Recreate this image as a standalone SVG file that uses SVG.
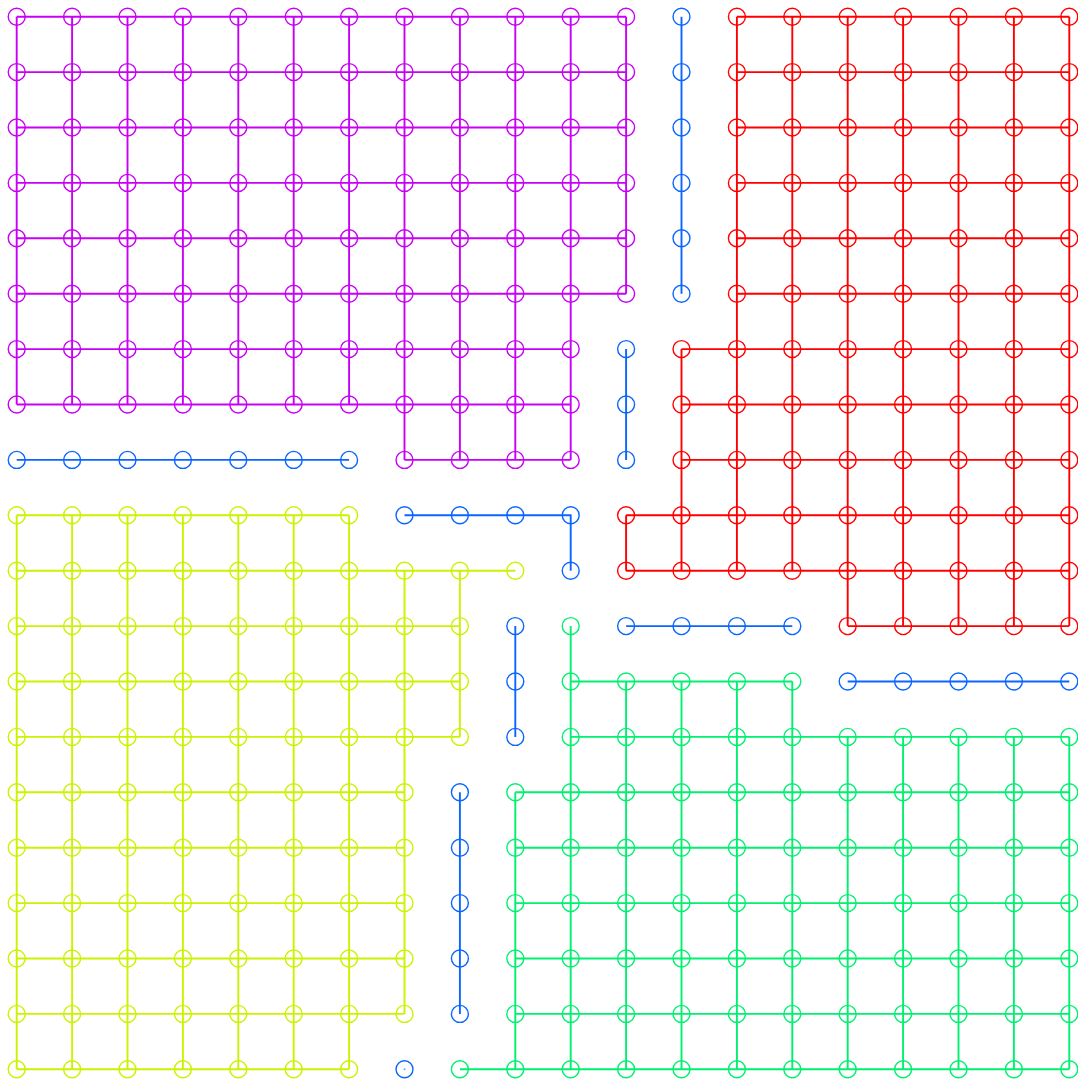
<svg xmlns="http://www.w3.org/2000/svg" width="1078" height="1082" viewBox="0 0 1078 1082">
<style>
circle{fill:none;stroke-width:1.4;vector-effect:non-scaling-stroke}
path{fill:none;stroke-width:1.9;vector-effect:non-scaling-stroke}
.p{stroke:#c800f5}.b{stroke:#0a66ff}.r{stroke:#ff0000}.y{stroke:#ccf200}.g{stroke:#00f070}
</style>
<rect width="1078" height="1082" fill="#ffffff"/>
<g transform="translate(16.7 16.7) scale(55.4)">
<g id="connectors">
<path class="p" d="M0 0H11M0 1H11M0 2H11M0 3H11M0 4H11M0 5H11M0 6H10M0 7H10M7 8H10M0 0V7M1 0V7M2 0V7M3 0V7M4 0V7M5 0V7M6 0V7M7 0V8M8 0V8M9 0V8M10 0V8M11 0V5"/>
<path class="b" d="M12 0V5M11 6V8M0 8H6M7 9H10V10M9 11V13M11 11H14M15 12H19M8 14V18"/>
<path class="r" d="M13 0H19M13 1H19M13 2H19M13 3H19M13 4H19M13 5H19M12 6H19M12 7H19M12 8H19M11 9H19M11 10H19M15 11H19M11 9V10M12 6V10M13 0V10M14 0V10M15 0V11M16 0V11M17 0V11M18 0V11M19 0V11"/>
<path class="y" d="M0 9H6M0 10H9M0 11H8M0 12H8M0 13H8M0 14H7M0 15H7M0 16H7M0 17H7M0 18H7M0 19H6M0 9V19M1 9V19M2 9V19M3 9V19M4 9V19M5 9V19M6 9V19M7 10V18M8 10V13"/>
<path class="g" d="M10 12H14M10 13H19M9 14H19M9 15H19M9 16H19M9 17H19M9 18H19M8 19H19M9 14V19M10 11V19M11 12V19M12 12V19M13 12V19M14 12V19M15 13V19M16 13V19M17 13V19M18 13V19M19 13V19"/>
</g>
<g id="nodes-purple" class="p">
<g id="n0_0"><circle cx="0" cy="0" r=".153"/></g><g id="n0_1"><circle cx="1" cy="0" r=".153"/></g><g id="n0_2"><circle cx="2" cy="0" r=".153"/></g><g id="n0_3"><circle cx="3" cy="0" r=".153"/></g><g id="n0_4"><circle cx="4" cy="0" r=".153"/></g><g id="n0_5"><circle cx="5" cy="0" r=".153"/></g><g id="n0_6"><circle cx="6" cy="0" r=".153"/></g><g id="n0_7"><circle cx="7" cy="0" r=".153"/></g><g id="n0_8"><circle cx="8" cy="0" r=".153"/></g><g id="n0_9"><circle cx="9" cy="0" r=".153"/></g><g id="n0_10"><circle cx="10" cy="0" r=".153"/></g><g id="n0_11"><circle cx="11" cy="0" r=".153"/></g>
<g id="n1_0"><circle cx="0" cy="1" r=".153"/></g><g id="n1_1"><circle cx="1" cy="1" r=".153"/></g><g id="n1_2"><circle cx="2" cy="1" r=".153"/></g><g id="n1_3"><circle cx="3" cy="1" r=".153"/></g><g id="n1_4"><circle cx="4" cy="1" r=".153"/></g><g id="n1_5"><circle cx="5" cy="1" r=".153"/></g><g id="n1_6"><circle cx="6" cy="1" r=".153"/></g><g id="n1_7"><circle cx="7" cy="1" r=".153"/></g><g id="n1_8"><circle cx="8" cy="1" r=".153"/></g><g id="n1_9"><circle cx="9" cy="1" r=".153"/></g><g id="n1_10"><circle cx="10" cy="1" r=".153"/></g><g id="n1_11"><circle cx="11" cy="1" r=".153"/></g>
<g id="n2_0"><circle cx="0" cy="2" r=".153"/></g><g id="n2_1"><circle cx="1" cy="2" r=".153"/></g><g id="n2_2"><circle cx="2" cy="2" r=".153"/></g><g id="n2_3"><circle cx="3" cy="2" r=".153"/></g><g id="n2_4"><circle cx="4" cy="2" r=".153"/></g><g id="n2_5"><circle cx="5" cy="2" r=".153"/></g><g id="n2_6"><circle cx="6" cy="2" r=".153"/></g><g id="n2_7"><circle cx="7" cy="2" r=".153"/></g><g id="n2_8"><circle cx="8" cy="2" r=".153"/></g><g id="n2_9"><circle cx="9" cy="2" r=".153"/></g><g id="n2_10"><circle cx="10" cy="2" r=".153"/></g><g id="n2_11"><circle cx="11" cy="2" r=".153"/></g>
<g id="n3_0"><circle cx="0" cy="3" r=".153"/></g><g id="n3_1"><circle cx="1" cy="3" r=".153"/></g><g id="n3_2"><circle cx="2" cy="3" r=".153"/></g><g id="n3_3"><circle cx="3" cy="3" r=".153"/></g><g id="n3_4"><circle cx="4" cy="3" r=".153"/></g><g id="n3_5"><circle cx="5" cy="3" r=".153"/></g><g id="n3_6"><circle cx="6" cy="3" r=".153"/></g><g id="n3_7"><circle cx="7" cy="3" r=".153"/></g><g id="n3_8"><circle cx="8" cy="3" r=".153"/></g><g id="n3_9"><circle cx="9" cy="3" r=".153"/></g><g id="n3_10"><circle cx="10" cy="3" r=".153"/></g><g id="n3_11"><circle cx="11" cy="3" r=".153"/></g>
<g id="n4_0"><circle cx="0" cy="4" r=".153"/></g><g id="n4_1"><circle cx="1" cy="4" r=".153"/></g><g id="n4_2"><circle cx="2" cy="4" r=".153"/></g><g id="n4_3"><circle cx="3" cy="4" r=".153"/></g><g id="n4_4"><circle cx="4" cy="4" r=".153"/></g><g id="n4_5"><circle cx="5" cy="4" r=".153"/></g><g id="n4_6"><circle cx="6" cy="4" r=".153"/></g><g id="n4_7"><circle cx="7" cy="4" r=".153"/></g><g id="n4_8"><circle cx="8" cy="4" r=".153"/></g><g id="n4_9"><circle cx="9" cy="4" r=".153"/></g><g id="n4_10"><circle cx="10" cy="4" r=".153"/></g><g id="n4_11"><circle cx="11" cy="4" r=".153"/></g>
<g id="n5_0"><circle cx="0" cy="5" r=".153"/></g><g id="n5_1"><circle cx="1" cy="5" r=".153"/></g><g id="n5_2"><circle cx="2" cy="5" r=".153"/></g><g id="n5_3"><circle cx="3" cy="5" r=".153"/></g><g id="n5_4"><circle cx="4" cy="5" r=".153"/></g><g id="n5_5"><circle cx="5" cy="5" r=".153"/></g><g id="n5_6"><circle cx="6" cy="5" r=".153"/></g><g id="n5_7"><circle cx="7" cy="5" r=".153"/></g><g id="n5_8"><circle cx="8" cy="5" r=".153"/></g><g id="n5_9"><circle cx="9" cy="5" r=".153"/></g><g id="n5_10"><circle cx="10" cy="5" r=".153"/></g><g id="n5_11"><circle cx="11" cy="5" r=".153"/></g>
<g id="n6_0"><circle cx="0" cy="6" r=".153"/></g><g id="n6_1"><circle cx="1" cy="6" r=".153"/></g><g id="n6_2"><circle cx="2" cy="6" r=".153"/></g><g id="n6_3"><circle cx="3" cy="6" r=".153"/></g><g id="n6_4"><circle cx="4" cy="6" r=".153"/></g><g id="n6_5"><circle cx="5" cy="6" r=".153"/></g><g id="n6_6"><circle cx="6" cy="6" r=".153"/></g><g id="n6_7"><circle cx="7" cy="6" r=".153"/></g><g id="n6_8"><circle cx="8" cy="6" r=".153"/></g><g id="n6_9"><circle cx="9" cy="6" r=".153"/></g><g id="n6_10"><circle cx="10" cy="6" r=".153"/></g>
<g id="n7_0"><circle cx="0" cy="7" r=".153"/></g><g id="n7_1"><circle cx="1" cy="7" r=".153"/></g><g id="n7_2"><circle cx="2" cy="7" r=".153"/></g><g id="n7_3"><circle cx="3" cy="7" r=".153"/></g><g id="n7_4"><circle cx="4" cy="7" r=".153"/></g><g id="n7_5"><circle cx="5" cy="7" r=".153"/></g><g id="n7_6"><circle cx="6" cy="7" r=".153"/></g><g id="n7_7"><circle cx="7" cy="7" r=".153"/></g><g id="n7_8"><circle cx="8" cy="7" r=".153"/></g><g id="n7_9"><circle cx="9" cy="7" r=".153"/></g><g id="n7_10"><circle cx="10" cy="7" r=".153"/></g>
<g id="n8_7"><circle cx="7" cy="8" r=".153"/></g><g id="n8_8"><circle cx="8" cy="8" r=".153"/></g><g id="n8_9"><circle cx="9" cy="8" r=".153"/></g><g id="n8_10"><circle cx="10" cy="8" r=".153"/></g>
</g>
<g id="nodes-blue" class="b">
<g id="n0_12"><circle cx="12" cy="0" r=".153"/></g><g id="n1_12"><circle cx="12" cy="1" r=".153"/></g><g id="n2_12"><circle cx="12" cy="2" r=".153"/></g><g id="n3_12"><circle cx="12" cy="3" r=".153"/></g><g id="n4_12"><circle cx="12" cy="4" r=".153"/></g><g id="n5_12"><circle cx="12" cy="5" r=".153"/></g>
<g id="n6_11"><circle cx="11" cy="6" r=".153"/></g><g id="n7_11"><circle cx="11" cy="7" r=".153"/></g><g id="n8_11"><circle cx="11" cy="8" r=".153"/></g>
<g id="n8_0"><circle cx="0" cy="8" r=".153"/></g><g id="n8_1"><circle cx="1" cy="8" r=".153"/></g><g id="n8_2"><circle cx="2" cy="8" r=".153"/></g><g id="n8_3"><circle cx="3" cy="8" r=".153"/></g><g id="n8_4"><circle cx="4" cy="8" r=".153"/></g><g id="n8_5"><circle cx="5" cy="8" r=".153"/></g><g id="n8_6"><circle cx="6" cy="8" r=".153"/></g>
<g id="n9_7"><circle cx="7" cy="9" r=".153"/></g><g id="n9_8"><circle cx="8" cy="9" r=".153"/></g><g id="n9_9"><circle cx="9" cy="9" r=".153"/></g><g id="n9_10"><circle cx="10" cy="9" r=".153"/></g><g id="n10_10"><circle cx="10" cy="10" r=".153"/></g>
<g id="n11_9"><circle cx="9" cy="11" r=".153"/></g><g id="n12_9"><circle cx="9" cy="12" r=".153"/></g><g id="n13_9"><circle cx="9" cy="13" r=".153"/></g>
<g id="n11_11"><circle cx="11" cy="11" r=".153"/></g><g id="n11_12"><circle cx="12" cy="11" r=".153"/></g><g id="n11_13"><circle cx="13" cy="11" r=".153"/></g><g id="n11_14"><circle cx="14" cy="11" r=".153"/></g>
<g id="n12_15"><circle cx="15" cy="12" r=".153"/></g><g id="n12_16"><circle cx="16" cy="12" r=".153"/></g><g id="n12_17"><circle cx="17" cy="12" r=".153"/></g><g id="n12_18"><circle cx="18" cy="12" r=".153"/></g><g id="n12_19"><circle cx="19" cy="12" r=".153"/></g>
<g id="n14_8"><circle cx="8" cy="14" r=".153"/></g><g id="n15_8"><circle cx="8" cy="15" r=".153"/></g><g id="n16_8"><circle cx="8" cy="16" r=".153"/></g><g id="n17_8"><circle cx="8" cy="17" r=".153"/></g><g id="n18_8"><circle cx="8" cy="18" r=".153"/></g>
<g id="n19_7"><circle cx="7" cy="19" r=".153"/><circle cx="7" cy="19" r=".018" style="fill:#0a66ff;stroke:none;opacity:.6"/></g>
</g>
<g id="nodes-red" class="r">
<g id="n0_13"><circle cx="13" cy="0" r=".153"/></g><g id="n0_14"><circle cx="14" cy="0" r=".153"/></g><g id="n0_15"><circle cx="15" cy="0" r=".153"/></g><g id="n0_16"><circle cx="16" cy="0" r=".153"/></g><g id="n0_17"><circle cx="17" cy="0" r=".153"/></g><g id="n0_18"><circle cx="18" cy="0" r=".153"/></g><g id="n0_19"><circle cx="19" cy="0" r=".153"/></g>
<g id="n1_13"><circle cx="13" cy="1" r=".153"/></g><g id="n1_14"><circle cx="14" cy="1" r=".153"/></g><g id="n1_15"><circle cx="15" cy="1" r=".153"/></g><g id="n1_16"><circle cx="16" cy="1" r=".153"/></g><g id="n1_17"><circle cx="17" cy="1" r=".153"/></g><g id="n1_18"><circle cx="18" cy="1" r=".153"/></g><g id="n1_19"><circle cx="19" cy="1" r=".153"/></g>
<g id="n2_13"><circle cx="13" cy="2" r=".153"/></g><g id="n2_14"><circle cx="14" cy="2" r=".153"/></g><g id="n2_15"><circle cx="15" cy="2" r=".153"/></g><g id="n2_16"><circle cx="16" cy="2" r=".153"/></g><g id="n2_17"><circle cx="17" cy="2" r=".153"/></g><g id="n2_18"><circle cx="18" cy="2" r=".153"/></g><g id="n2_19"><circle cx="19" cy="2" r=".153"/></g>
<g id="n3_13"><circle cx="13" cy="3" r=".153"/></g><g id="n3_14"><circle cx="14" cy="3" r=".153"/></g><g id="n3_15"><circle cx="15" cy="3" r=".153"/></g><g id="n3_16"><circle cx="16" cy="3" r=".153"/></g><g id="n3_17"><circle cx="17" cy="3" r=".153"/></g><g id="n3_18"><circle cx="18" cy="3" r=".153"/></g><g id="n3_19"><circle cx="19" cy="3" r=".153"/></g>
<g id="n4_13"><circle cx="13" cy="4" r=".153"/></g><g id="n4_14"><circle cx="14" cy="4" r=".153"/></g><g id="n4_15"><circle cx="15" cy="4" r=".153"/></g><g id="n4_16"><circle cx="16" cy="4" r=".153"/></g><g id="n4_17"><circle cx="17" cy="4" r=".153"/></g><g id="n4_18"><circle cx="18" cy="4" r=".153"/></g><g id="n4_19"><circle cx="19" cy="4" r=".153"/></g>
<g id="n5_13"><circle cx="13" cy="5" r=".153"/></g><g id="n5_14"><circle cx="14" cy="5" r=".153"/></g><g id="n5_15"><circle cx="15" cy="5" r=".153"/></g><g id="n5_16"><circle cx="16" cy="5" r=".153"/></g><g id="n5_17"><circle cx="17" cy="5" r=".153"/></g><g id="n5_18"><circle cx="18" cy="5" r=".153"/></g><g id="n5_19"><circle cx="19" cy="5" r=".153"/></g>
<g id="n6_12"><circle cx="12" cy="6" r=".153"/></g><g id="n6_13"><circle cx="13" cy="6" r=".153"/></g><g id="n6_14"><circle cx="14" cy="6" r=".153"/></g><g id="n6_15"><circle cx="15" cy="6" r=".153"/></g><g id="n6_16"><circle cx="16" cy="6" r=".153"/></g><g id="n6_17"><circle cx="17" cy="6" r=".153"/></g><g id="n6_18"><circle cx="18" cy="6" r=".153"/></g><g id="n6_19"><circle cx="19" cy="6" r=".153"/></g>
<g id="n7_12"><circle cx="12" cy="7" r=".153"/></g><g id="n7_13"><circle cx="13" cy="7" r=".153"/></g><g id="n7_14"><circle cx="14" cy="7" r=".153"/></g><g id="n7_15"><circle cx="15" cy="7" r=".153"/></g><g id="n7_16"><circle cx="16" cy="7" r=".153"/></g><g id="n7_17"><circle cx="17" cy="7" r=".153"/></g><g id="n7_18"><circle cx="18" cy="7" r=".153"/></g><g id="n7_19"><circle cx="19" cy="7" r=".153"/></g>
<g id="n8_12"><circle cx="12" cy="8" r=".153"/></g><g id="n8_13"><circle cx="13" cy="8" r=".153"/></g><g id="n8_14"><circle cx="14" cy="8" r=".153"/></g><g id="n8_15"><circle cx="15" cy="8" r=".153"/></g><g id="n8_16"><circle cx="16" cy="8" r=".153"/></g><g id="n8_17"><circle cx="17" cy="8" r=".153"/></g><g id="n8_18"><circle cx="18" cy="8" r=".153"/></g><g id="n8_19"><circle cx="19" cy="8" r=".153"/></g>
<g id="n9_11"><circle cx="11" cy="9" r=".153"/></g><g id="n9_12"><circle cx="12" cy="9" r=".153"/></g><g id="n9_13"><circle cx="13" cy="9" r=".153"/></g><g id="n9_14"><circle cx="14" cy="9" r=".153"/></g><g id="n9_15"><circle cx="15" cy="9" r=".153"/></g><g id="n9_16"><circle cx="16" cy="9" r=".153"/></g><g id="n9_17"><circle cx="17" cy="9" r=".153"/></g><g id="n9_18"><circle cx="18" cy="9" r=".153"/></g><g id="n9_19"><circle cx="19" cy="9" r=".153"/></g>
<g id="n10_11"><circle cx="11" cy="10" r=".153"/></g><g id="n10_12"><circle cx="12" cy="10" r=".153"/></g><g id="n10_13"><circle cx="13" cy="10" r=".153"/></g><g id="n10_14"><circle cx="14" cy="10" r=".153"/></g><g id="n10_15"><circle cx="15" cy="10" r=".153"/></g><g id="n10_16"><circle cx="16" cy="10" r=".153"/></g><g id="n10_17"><circle cx="17" cy="10" r=".153"/></g><g id="n10_18"><circle cx="18" cy="10" r=".153"/></g><g id="n10_19"><circle cx="19" cy="10" r=".153"/></g>
<g id="n11_15"><circle cx="15" cy="11" r=".153"/></g><g id="n11_16"><circle cx="16" cy="11" r=".153"/></g><g id="n11_17"><circle cx="17" cy="11" r=".153"/></g><g id="n11_18"><circle cx="18" cy="11" r=".153"/></g><g id="n11_19"><circle cx="19" cy="11" r=".153"/></g>
</g>
<g id="nodes-yellow" class="y">
<g id="n9_0"><circle cx="0" cy="9" r=".153"/></g><g id="n9_1"><circle cx="1" cy="9" r=".153"/></g><g id="n9_2"><circle cx="2" cy="9" r=".153"/></g><g id="n9_3"><circle cx="3" cy="9" r=".153"/></g><g id="n9_4"><circle cx="4" cy="9" r=".153"/></g><g id="n9_5"><circle cx="5" cy="9" r=".153"/></g><g id="n9_6"><circle cx="6" cy="9" r=".153"/></g>
<g id="n10_0"><circle cx="0" cy="10" r=".153"/></g><g id="n10_1"><circle cx="1" cy="10" r=".153"/></g><g id="n10_2"><circle cx="2" cy="10" r=".153"/></g><g id="n10_3"><circle cx="3" cy="10" r=".153"/></g><g id="n10_4"><circle cx="4" cy="10" r=".153"/></g><g id="n10_5"><circle cx="5" cy="10" r=".153"/></g><g id="n10_6"><circle cx="6" cy="10" r=".153"/></g><g id="n10_7"><circle cx="7" cy="10" r=".153"/></g><g id="n10_8"><circle cx="8" cy="10" r=".153"/></g><g id="n10_9"><circle cx="9" cy="10" r=".153"/></g>
<g id="n11_0"><circle cx="0" cy="11" r=".153"/></g><g id="n11_1"><circle cx="1" cy="11" r=".153"/></g><g id="n11_2"><circle cx="2" cy="11" r=".153"/></g><g id="n11_3"><circle cx="3" cy="11" r=".153"/></g><g id="n11_4"><circle cx="4" cy="11" r=".153"/></g><g id="n11_5"><circle cx="5" cy="11" r=".153"/></g><g id="n11_6"><circle cx="6" cy="11" r=".153"/></g><g id="n11_7"><circle cx="7" cy="11" r=".153"/></g><g id="n11_8"><circle cx="8" cy="11" r=".153"/></g>
<g id="n12_0"><circle cx="0" cy="12" r=".153"/></g><g id="n12_1"><circle cx="1" cy="12" r=".153"/></g><g id="n12_2"><circle cx="2" cy="12" r=".153"/></g><g id="n12_3"><circle cx="3" cy="12" r=".153"/></g><g id="n12_4"><circle cx="4" cy="12" r=".153"/></g><g id="n12_5"><circle cx="5" cy="12" r=".153"/></g><g id="n12_6"><circle cx="6" cy="12" r=".153"/></g><g id="n12_7"><circle cx="7" cy="12" r=".153"/></g><g id="n12_8"><circle cx="8" cy="12" r=".153"/></g>
<g id="n13_0"><circle cx="0" cy="13" r=".153"/></g><g id="n13_1"><circle cx="1" cy="13" r=".153"/></g><g id="n13_2"><circle cx="2" cy="13" r=".153"/></g><g id="n13_3"><circle cx="3" cy="13" r=".153"/></g><g id="n13_4"><circle cx="4" cy="13" r=".153"/></g><g id="n13_5"><circle cx="5" cy="13" r=".153"/></g><g id="n13_6"><circle cx="6" cy="13" r=".153"/></g><g id="n13_7"><circle cx="7" cy="13" r=".153"/></g><g id="n13_8"><circle cx="8" cy="13" r=".153"/></g>
<g id="n14_0"><circle cx="0" cy="14" r=".153"/></g><g id="n14_1"><circle cx="1" cy="14" r=".153"/></g><g id="n14_2"><circle cx="2" cy="14" r=".153"/></g><g id="n14_3"><circle cx="3" cy="14" r=".153"/></g><g id="n14_4"><circle cx="4" cy="14" r=".153"/></g><g id="n14_5"><circle cx="5" cy="14" r=".153"/></g><g id="n14_6"><circle cx="6" cy="14" r=".153"/></g><g id="n14_7"><circle cx="7" cy="14" r=".153"/></g>
<g id="n15_0"><circle cx="0" cy="15" r=".153"/></g><g id="n15_1"><circle cx="1" cy="15" r=".153"/></g><g id="n15_2"><circle cx="2" cy="15" r=".153"/></g><g id="n15_3"><circle cx="3" cy="15" r=".153"/></g><g id="n15_4"><circle cx="4" cy="15" r=".153"/></g><g id="n15_5"><circle cx="5" cy="15" r=".153"/></g><g id="n15_6"><circle cx="6" cy="15" r=".153"/></g><g id="n15_7"><circle cx="7" cy="15" r=".153"/></g>
<g id="n16_0"><circle cx="0" cy="16" r=".153"/></g><g id="n16_1"><circle cx="1" cy="16" r=".153"/></g><g id="n16_2"><circle cx="2" cy="16" r=".153"/></g><g id="n16_3"><circle cx="3" cy="16" r=".153"/></g><g id="n16_4"><circle cx="4" cy="16" r=".153"/></g><g id="n16_5"><circle cx="5" cy="16" r=".153"/></g><g id="n16_6"><circle cx="6" cy="16" r=".153"/></g><g id="n16_7"><circle cx="7" cy="16" r=".153"/></g>
<g id="n17_0"><circle cx="0" cy="17" r=".153"/></g><g id="n17_1"><circle cx="1" cy="17" r=".153"/></g><g id="n17_2"><circle cx="2" cy="17" r=".153"/></g><g id="n17_3"><circle cx="3" cy="17" r=".153"/></g><g id="n17_4"><circle cx="4" cy="17" r=".153"/></g><g id="n17_5"><circle cx="5" cy="17" r=".153"/></g><g id="n17_6"><circle cx="6" cy="17" r=".153"/></g><g id="n17_7"><circle cx="7" cy="17" r=".153"/></g>
<g id="n18_0"><circle cx="0" cy="18" r=".153"/></g><g id="n18_1"><circle cx="1" cy="18" r=".153"/></g><g id="n18_2"><circle cx="2" cy="18" r=".153"/></g><g id="n18_3"><circle cx="3" cy="18" r=".153"/></g><g id="n18_4"><circle cx="4" cy="18" r=".153"/></g><g id="n18_5"><circle cx="5" cy="18" r=".153"/></g><g id="n18_6"><circle cx="6" cy="18" r=".153"/></g><g id="n18_7"><circle cx="7" cy="18" r=".153"/></g>
<g id="n19_0"><circle cx="0" cy="19" r=".153"/></g><g id="n19_1"><circle cx="1" cy="19" r=".153"/></g><g id="n19_2"><circle cx="2" cy="19" r=".153"/></g><g id="n19_3"><circle cx="3" cy="19" r=".153"/></g><g id="n19_4"><circle cx="4" cy="19" r=".153"/></g><g id="n19_5"><circle cx="5" cy="19" r=".153"/></g><g id="n19_6"><circle cx="6" cy="19" r=".153"/></g>
</g>
<g id="nodes-green" class="g">
<g id="n11_10"><circle cx="10" cy="11" r=".153"/></g>
<g id="n12_10"><circle cx="10" cy="12" r=".153"/></g><g id="n12_11"><circle cx="11" cy="12" r=".153"/></g><g id="n12_12"><circle cx="12" cy="12" r=".153"/></g><g id="n12_13"><circle cx="13" cy="12" r=".153"/></g><g id="n12_14"><circle cx="14" cy="12" r=".153"/></g>
<g id="n13_10"><circle cx="10" cy="13" r=".153"/></g><g id="n13_11"><circle cx="11" cy="13" r=".153"/></g><g id="n13_12"><circle cx="12" cy="13" r=".153"/></g><g id="n13_13"><circle cx="13" cy="13" r=".153"/></g><g id="n13_14"><circle cx="14" cy="13" r=".153"/></g><g id="n13_15"><circle cx="15" cy="13" r=".153"/></g><g id="n13_16"><circle cx="16" cy="13" r=".153"/></g><g id="n13_17"><circle cx="17" cy="13" r=".153"/></g><g id="n13_18"><circle cx="18" cy="13" r=".153"/></g><g id="n13_19"><circle cx="19" cy="13" r=".153"/></g>
<g id="n14_9"><circle cx="9" cy="14" r=".153"/></g><g id="n14_10"><circle cx="10" cy="14" r=".153"/></g><g id="n14_11"><circle cx="11" cy="14" r=".153"/></g><g id="n14_12"><circle cx="12" cy="14" r=".153"/></g><g id="n14_13"><circle cx="13" cy="14" r=".153"/></g><g id="n14_14"><circle cx="14" cy="14" r=".153"/></g><g id="n14_15"><circle cx="15" cy="14" r=".153"/></g><g id="n14_16"><circle cx="16" cy="14" r=".153"/></g><g id="n14_17"><circle cx="17" cy="14" r=".153"/></g><g id="n14_18"><circle cx="18" cy="14" r=".153"/></g><g id="n14_19"><circle cx="19" cy="14" r=".153"/></g>
<g id="n15_9"><circle cx="9" cy="15" r=".153"/></g><g id="n15_10"><circle cx="10" cy="15" r=".153"/></g><g id="n15_11"><circle cx="11" cy="15" r=".153"/></g><g id="n15_12"><circle cx="12" cy="15" r=".153"/></g><g id="n15_13"><circle cx="13" cy="15" r=".153"/></g><g id="n15_14"><circle cx="14" cy="15" r=".153"/></g><g id="n15_15"><circle cx="15" cy="15" r=".153"/></g><g id="n15_16"><circle cx="16" cy="15" r=".153"/></g><g id="n15_17"><circle cx="17" cy="15" r=".153"/></g><g id="n15_18"><circle cx="18" cy="15" r=".153"/></g><g id="n15_19"><circle cx="19" cy="15" r=".153"/></g>
<g id="n16_9"><circle cx="9" cy="16" r=".153"/></g><g id="n16_10"><circle cx="10" cy="16" r=".153"/></g><g id="n16_11"><circle cx="11" cy="16" r=".153"/></g><g id="n16_12"><circle cx="12" cy="16" r=".153"/></g><g id="n16_13"><circle cx="13" cy="16" r=".153"/></g><g id="n16_14"><circle cx="14" cy="16" r=".153"/></g><g id="n16_15"><circle cx="15" cy="16" r=".153"/></g><g id="n16_16"><circle cx="16" cy="16" r=".153"/></g><g id="n16_17"><circle cx="17" cy="16" r=".153"/></g><g id="n16_18"><circle cx="18" cy="16" r=".153"/></g><g id="n16_19"><circle cx="19" cy="16" r=".153"/></g>
<g id="n17_9"><circle cx="9" cy="17" r=".153"/></g><g id="n17_10"><circle cx="10" cy="17" r=".153"/></g><g id="n17_11"><circle cx="11" cy="17" r=".153"/></g><g id="n17_12"><circle cx="12" cy="17" r=".153"/></g><g id="n17_13"><circle cx="13" cy="17" r=".153"/></g><g id="n17_14"><circle cx="14" cy="17" r=".153"/></g><g id="n17_15"><circle cx="15" cy="17" r=".153"/></g><g id="n17_16"><circle cx="16" cy="17" r=".153"/></g><g id="n17_17"><circle cx="17" cy="17" r=".153"/></g><g id="n17_18"><circle cx="18" cy="17" r=".153"/></g><g id="n17_19"><circle cx="19" cy="17" r=".153"/></g>
<g id="n18_9"><circle cx="9" cy="18" r=".153"/></g><g id="n18_10"><circle cx="10" cy="18" r=".153"/></g><g id="n18_11"><circle cx="11" cy="18" r=".153"/></g><g id="n18_12"><circle cx="12" cy="18" r=".153"/></g><g id="n18_13"><circle cx="13" cy="18" r=".153"/></g><g id="n18_14"><circle cx="14" cy="18" r=".153"/></g><g id="n18_15"><circle cx="15" cy="18" r=".153"/></g><g id="n18_16"><circle cx="16" cy="18" r=".153"/></g><g id="n18_17"><circle cx="17" cy="18" r=".153"/></g><g id="n18_18"><circle cx="18" cy="18" r=".153"/></g><g id="n18_19"><circle cx="19" cy="18" r=".153"/></g>
<g id="n19_8"><circle cx="8" cy="19" r=".153"/></g><g id="n19_9"><circle cx="9" cy="19" r=".153"/></g><g id="n19_10"><circle cx="10" cy="19" r=".153"/></g><g id="n19_11"><circle cx="11" cy="19" r=".153"/></g><g id="n19_12"><circle cx="12" cy="19" r=".153"/></g><g id="n19_13"><circle cx="13" cy="19" r=".153"/></g><g id="n19_14"><circle cx="14" cy="19" r=".153"/></g><g id="n19_15"><circle cx="15" cy="19" r=".153"/></g><g id="n19_16"><circle cx="16" cy="19" r=".153"/></g><g id="n19_17"><circle cx="17" cy="19" r=".153"/></g><g id="n19_18"><circle cx="18" cy="19" r=".153"/></g><g id="n19_19"><circle cx="19" cy="19" r=".153"/></g>
</g>
</g>
</svg>
